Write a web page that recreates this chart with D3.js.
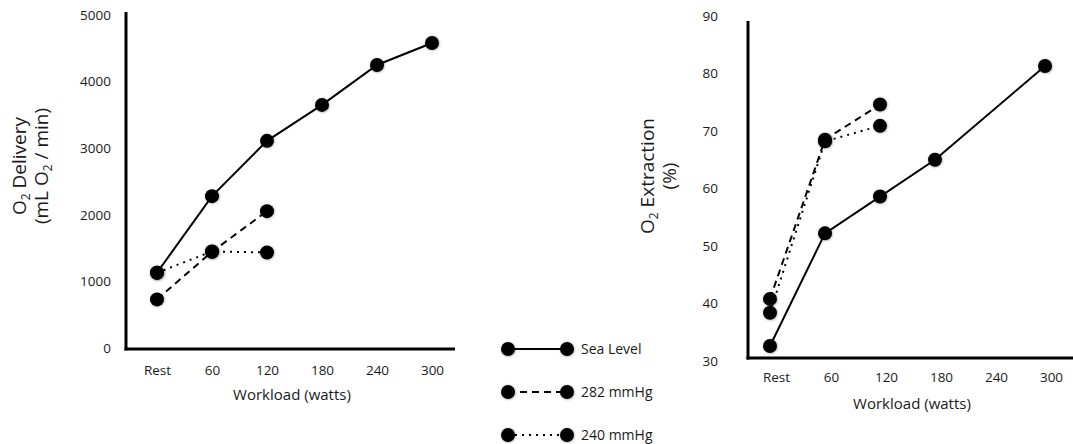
<!DOCTYPE html>
<html lang="en">
  <head>
    <meta charset="utf-8">
    <title>O2 delivery and extraction</title>
    <script src="https://d3js.org/d3.v7.min.js"></script>
    <style>
      body { margin: 0; background: #fff; }
      text { font-family: "Open Sans", sans-serif; fill: #1a1a1a; }
    </style>
  </head>
  <body>
  <script>

// data
  var workloads = ["Rest", "60", "120", "180", "240", "300"];

  var deliverySea = [1130, 2280, 3110, 3650, 4250, 4580];
  var delivery282 = [730, 1445, 2055];
  var delivery240 = [1130, 1450, 1435];

  var extractionSea = [32.6, 52.2, 58.6, 65.0, null, 81.3];
  var extraction282 = [40.8, 68.5, 74.6];
  var extraction240 = [38.4, 68.2, 70.9];

  var deliveryTicks = [0, 1000, 2000, 3000, 4000, 5000];
  var extractionTicks = [30, 40, 50, 60, 70, 80, 90];

  var seriesNames = ["Sea Level", "282 mmHg", "240 mmHg"];
  var seriesDash = [null, "7,5", "2,5"];

  var w = 1073, h = 444;
  var tickFont = "13.5px";

  var svg = d3.select("body").append("svg")
      .attr("width", w)
      .attr("height", h);

  var defs = svg.append("defs");
  var f = defs.append("filter").attr("id", "soft")
      .attr("x", "-50%").attr("y", "-50%").attr("width", "200%").attr("height", "200%");
  f.append("feDropShadow").attr("dx", 0.5).attr("dy", 0.5)
      .attr("stdDeviation", 1.2).attr("flood-color", "#000").attr("flood-opacity", 0.35);

  function panel(cfg) {
    var x = d3.scalePoint().domain(workloads).range(cfg.xRange);
    var y = d3.scaleLinear().domain(cfg.yDomain).range(cfg.yRange);
    var g = svg.append("g");

    // axis lines
    g.append("line")
        .attr("x1", cfg.axisX).attr("x2", cfg.axisX)
        .attr("y1", cfg.axisTop).attr("y2", cfg.axisY + 1.5)
        .attr("stroke", "#000").attr("stroke-width", 3);
    g.append("line")
        .attr("x1", cfg.axisX - 1.5).attr("x2", cfg.axisRight)
        .attr("y1", cfg.axisY).attr("y2", cfg.axisY)
        .attr("stroke", "#000").attr("stroke-width", 3);

    // tick labels
    var yAxis = g.append("g")
        .attr("transform", `translate(${cfg.yLabelX},0)`)
        .call(d3.axisLeft(y).tickValues(cfg.ticks).tickFormat(d3.format("d"))
          .tickSize(0).tickPadding(0));
    yAxis.select(".domain").remove();
    yAxis.selectAll("text")
        .style("font-family", "'Open Sans', sans-serif")
        .style("font-size", tickFont).attr("fill", "#1a1a1a");

    var xAxis = g.append("g")
        .attr("transform", `translate(${cfg.xLabelDx},${cfg.xLabelY})`)
        .call(d3.axisBottom(x).tickSize(0).tickPadding(0));
    xAxis.select(".domain").remove();
    xAxis.selectAll("text")
        .style("font-family", "'Open Sans', sans-serif")
        .style("font-size", tickFont).attr("fill", "#1a1a1a");

    g.append("text")
        .attr("x", cfg.titleX).attr("y", cfg.titleY)
        .attr("text-anchor", "middle")
        .style("font-size", "15px")
        .text("Workload (watts)");

    // y title (two lines, rotated)
    var yt = g.append("text")
        .attr("transform", `translate(${cfg.yTitleX},${cfg.yTitleY}) rotate(-90)`)
        .attr("text-anchor", "middle")
        .style("font-size", "19px");
    var l1 = yt.append("tspan").attr("x", 0).attr("dy", 0);
    l1.append("tspan").text("O");
    l1.append("tspan").attr("dy", 4).style("font-size", "12px").text("2");
    l1.append("tspan").attr("dy", -4).text(cfg.line1);
    var l2 = yt.append("tspan").attr("x", 0).attr("dy", 22);
    cfg.line2.forEach(function (p) {
      if (p === "2") {
        l2.append("tspan").attr("dy", 4).style("font-size", "12px").text("2");
      } else if (p === "up") {
        l2.append("tspan").attr("dy", -4).text(" / min)");
      } else {
        l2.append("tspan").text(p);
      }
    });

    // series
    cfg.series.forEach(function (vals, i) {
      var pts = vals.map((v, k) => ({k: workloads[k], v: v})).filter(d => d.v != null);
      var line = d3.line().x(d => x(d.k)).y(d => y(d.v));
      g.append("path")
          .datum(pts)
          .attr("d", line)
          .attr("fill", "none")
          .attr("stroke", "#000")
          .attr("stroke-width", 2)
          .attr("stroke-dasharray", seriesDash[i]);
    });
    cfg.series.forEach(function (vals) {
      var pts = vals.map((v, k) => ({k: workloads[k], v: v})).filter(d => d.v != null);
      g.selectAll(null).data(pts).enter().append("circle")
          .attr("cx", d => x(d.k))
          .attr("cy", d => y(d.v))
          .attr("r", 7)
          .attr("fill", "#000")
          .attr("filter", "url(#soft)");
    });
  }

  panel({
    xRange: [157, 432], yDomain: [0, 5000], yRange: [348, 15],
    axisX: 126, axisTop: 12, axisY: 349, axisRight: 455,
    ticks: deliveryTicks, yLabelX: 111,
    xLabelDx: 0, xLabelY: 365,
    titleX: 292, titleY: 400,
    yTitleX: 26, yTitleY: 166,
    line1: " Delivery", line2: ["(mL O", "2", "up"],
    series: [deliverySea, delivery282, delivery240]
  });

  panel({
    xRange: [770, 1045], yDomain: [30, 90], yRange: [361, 16],
    axisX: 748, axisTop: 21, axisY: 358, axisRight: 1073,
    ticks: extractionTicks, yLabelX: 718,
    xLabelDx: 6, xLabelY: 372,
    titleX: 912, titleY: 409,
    yTitleX: 654, yTitleY: 176,
    line1: " Extraction", line2: ["(%)"],
    series: [extractionSea, extraction282, extraction240]
  });

  // legend
  var legend = svg.append("g");
  var legendY = [349, 392, 435];
  seriesNames.forEach(function (name, i) {
    var row = legend.append("g").attr("transform", `translate(0,${legendY[i]})`);
    row.append("line")
        .attr("x1", 508).attr("x2", 567).attr("y1", 0).attr("y2", 0)
        .attr("stroke", "#000").attr("stroke-width", 2)
        .attr("stroke-dasharray", seriesDash[i]);
    [508, 567].forEach(function (cx) {
      row.append("circle").attr("cx", cx).attr("cy", 0).attr("r", 7)
          .attr("fill", "#000").attr("filter", "url(#soft)");
    });
    row.append("text")
        .attr("x", 581).attr("y", 0).attr("dy", "0.35em")
        .style("font-size", "14px")
        .text(name);
  });

  </script>
  </body>
</html>
